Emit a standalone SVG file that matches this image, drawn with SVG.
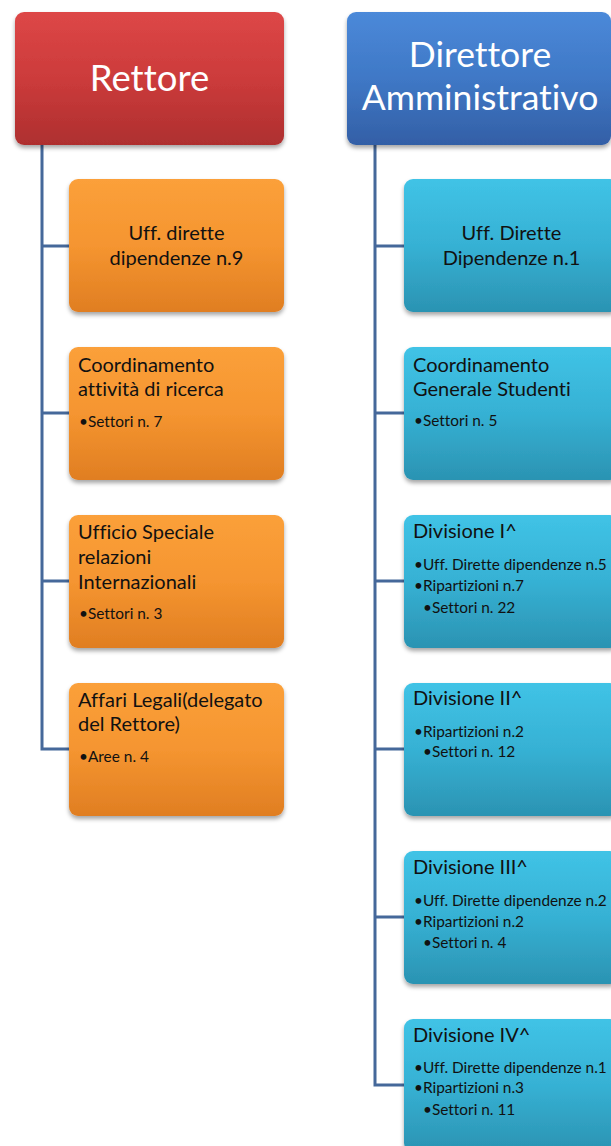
<svg xmlns="http://www.w3.org/2000/svg" width="611" height="1146" viewBox="0 0 611 1146">
<style>
text{font-variant-ligatures:none;font-feature-settings:"liga" 0}
.hdr{font-family:Lato,"Liberation Sans",sans-serif;font-size:35.5px;fill:#fff;text-anchor:middle}
.big{font-size:36.5px}
.t{font-family:Lato,"Liberation Sans",sans-serif;font-size:20px;fill:#111}
.tc{text-anchor:middle}
.b{font-family:Lato,"Liberation Sans",sans-serif;font-size:15.4px;fill:#111}
.conn{fill:none;stroke:#45689A;stroke-width:3}
</style>
<defs>
<linearGradient id="gRed" x1="0" y1="0" x2="0" y2="1">
<stop offset="0" stop-color="#DD4747"/><stop offset="0.5" stop-color="#CC3B3B"/><stop offset="1" stop-color="#AE2F2F"/>
</linearGradient>
<linearGradient id="gBlue" x1="0" y1="0" x2="0" y2="1">
<stop offset="0" stop-color="#4B89D9"/><stop offset="0.5" stop-color="#3F78C6"/><stop offset="1" stop-color="#335FA6"/>
</linearGradient>
<linearGradient id="gOr" x1="0" y1="0" x2="0" y2="1">
<stop offset="0" stop-color="#FBA03A"/><stop offset="0.5" stop-color="#F59530"/><stop offset="1" stop-color="#E07E22"/>
</linearGradient>
<linearGradient id="gCy" x1="0" y1="0" x2="0" y2="1">
<stop offset="0" stop-color="#40C3E6"/><stop offset="0.5" stop-color="#36B1D4"/><stop offset="1" stop-color="#2B93B2"/>
</linearGradient>
<filter id="sh" x="-10%" y="-10%" width="120%" height="130%">
<feDropShadow dx="0" dy="3" stdDeviation="2" flood-color="#000" flood-opacity="0.35"/>
</filter>
</defs>
<rect width="611" height="1146" fill="#fff"/>
<g id="connectors">
<path class="conn" d="M42 145 V749 H69 M42 246 H69 M42 413 H69 M42 581 H69"/>
<path class="conn" d="M375 145 V1085 H404 M375 246 H404 M375 413 H404 M375 581 H404 M375 749 H404 M375 917 H404"/>
</g>
<g id="rettore">
<rect x="15" y="12" width="269" height="133" rx="9" fill="url(#gRed)" filter="url(#sh)"/>
<text class="hdr big" x="149.5" y="91">Rettore</text>
</g>
<g id="direttore">
<rect x="347" y="12" width="264" height="133" rx="9" fill="url(#gBlue)" filter="url(#sh)"/>
<text class="hdr" x="480" y="67">Direttore</text>
<text class="hdr" x="480" y="110">Amministrativo</text>
</g>
<g id="r1">
<rect x="69" y="179" width="215" height="133" rx="9" fill="url(#gOr)" filter="url(#sh)"/>
<text class="t tc" x="176.5" y="240">Uff. dirette</text>
<text class="t tc" x="176.5" y="265">dipendenze n.9</text>
</g>
<g id="r2">
<rect x="69" y="347" width="215" height="133" rx="9" fill="url(#gOr)" filter="url(#sh)"/>
<text class="t" x="78" y="372">Coordinamento</text>
<text class="t" x="78" y="396">attività di ricerca</text>
<text class="b" x="79" y="427">•Settori n. 7</text>
</g>
<g id="r3">
<rect x="69" y="515" width="215" height="133" rx="9" fill="url(#gOr)" filter="url(#sh)"/>
<text class="t" x="78" y="539">Ufficio Speciale</text>
<text class="t" x="78" y="564">relazioni</text>
<text class="t" x="78" y="589">Internazionali</text>
<text class="b" x="79" y="619">•Settori n. 3</text>
</g>
<g id="r4">
<rect x="69" y="683" width="215" height="133" rx="9" fill="url(#gOr)" filter="url(#sh)"/>
<text class="t" x="78" y="707">Affari Legali(delegato</text>
<text class="t" x="78" y="731">del Rettore)</text>
<text class="b" x="79" y="762">•Aree n. 4</text>
</g>
<g id="d1">
<rect x="404" y="179" width="215" height="133" rx="9" fill="url(#gCy)" filter="url(#sh)"/>
<text class="t tc" x="511.5" y="240">Uff. Dirette</text>
<text class="t tc" x="511.5" y="265">Dipendenze n.1</text>
</g>
<g id="d2">
<rect x="404" y="347" width="215" height="133" rx="9" fill="url(#gCy)" filter="url(#sh)"/>
<text class="t" x="413" y="372">Coordinamento</text>
<text class="t" x="413" y="396">Generale Studenti</text>
<text class="b" x="414" y="426">•Settori n. 5</text>
</g>
<g id="d3">
<rect x="404" y="515" width="215" height="133" rx="9" fill="url(#gCy)" filter="url(#sh)"/>
<text class="t" x="413" y="538">Divisione I^</text>
<text class="b" x="414" y="570">•Uff. Dirette dipendenze n.5</text>
<text class="b" x="414" y="591">•Ripartizioni n.7</text>
<text class="b" x="423" y="613">•Settori n. 22</text>
</g>
<g id="d4">
<rect x="404" y="683" width="215" height="133" rx="9" fill="url(#gCy)" filter="url(#sh)"/>
<text class="t" x="413" y="705">Divisione II^</text>
<text class="b" x="414" y="737">•Ripartizioni n.2</text>
<text class="b" x="423" y="757">•Settori n. 12</text>
</g>
<g id="d5">
<rect x="404" y="851" width="215" height="133" rx="9" fill="url(#gCy)" filter="url(#sh)"/>
<text class="t" x="413" y="874">Divisione III^</text>
<text class="b" x="414" y="906">•Uff. Dirette dipendenze n.2</text>
<text class="b" x="414" y="927">•Ripartizioni n.2</text>
<text class="b" x="423" y="948">•Settori n. 4</text>
</g>
<g id="d6">
<rect x="404" y="1019" width="215" height="133" rx="9" fill="url(#gCy)" filter="url(#sh)"/>
<text class="t" x="413" y="1042">Divisione IV^</text>
<text class="b" x="414" y="1073">•Uff. Dirette dipendenze n.1</text>
<text class="b" x="414" y="1093">•Ripartizioni n.3</text>
<text class="b" x="423" y="1115">•Settori n. 11</text>
</g>
</svg>
